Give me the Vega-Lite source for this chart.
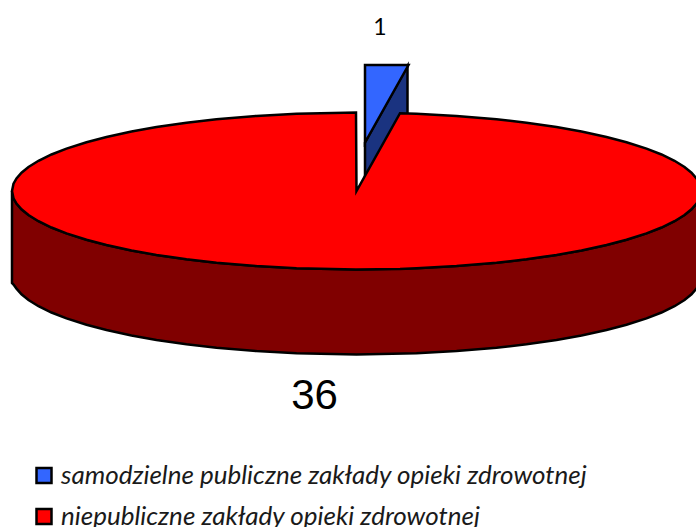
{
"$schema":"https://vega.github.io/schema/vega-lite/v6.json",
"width":696,"height":527,"padding":0,"autosize":{"type":"none"},
"background":"white",
"config":{"view":{"stroke":null}},
"datasets":{
"blueSide":[{"x":365,"y":142.5,"y2":176},{"x":407.5,"y":66,"y2":122}],
"blueTop":[{"x":365,"y":65,"y2":142.5,"category":"samodzielne publiczne zakłady opieki zdrowotnej"},{"x":408.5,"y":65,"y2":65,"category":"samodzielne publiczne zakłady opieki zdrowotnej"}],
"redSide":[
{"x":12,"y":191,"y2":283},{"x":13.5,"y":198.3,"y2":284.5},{"x":16.5,"y":203.6,"y2":288.6},{"x":21.5,"y":209.3,"y2":294.3},{"x":28.5,"y":215,"y2":300},{"x":38.5,"y":221.2,"y2":306.2},{"x":51.5,"y":227.5,"y2":312.5},{"x":66.5,"y":233.4,"y2":318.4},{"x":86.5,"y":239.8,"y2":324.8},{"x":106.5,"y":245,"y2":330},{"x":131.5,"y":250.4,"y2":335.4},{"x":156.5,"y":254.9,"y2":339.9},{"x":186.5,"y":259.3,"y2":344.3},{"x":216.5,"y":262.7,"y2":347.7},{"x":256.5,"y":266.1,"y2":351.1},{"x":296.5,"y":268.3,"y2":353.3},{"x":356.5,"y":269.5,"y2":354.5},{"x":416.5,"y":268.3,"y2":353.3},{"x":456.5,"y":266.1,"y2":351.1},{"x":496.5,"y":262.7,"y2":347.7},{"x":526.5,"y":259.3,"y2":344.3},{"x":556.5,"y":254.9,"y2":339.9},{"x":581.5,"y":250.4,"y2":335.4},{"x":606.5,"y":245,"y2":330},{"x":626.5,"y":239.8,"y2":324.8},{"x":646.5,"y":233.4,"y2":318.4},{"x":661.5,"y":227.5,"y2":312.5},{"x":674.5,"y":221.2,"y2":306.2},{"x":684.5,"y":215,"y2":300},{"x":691.5,"y":209.3,"y2":294.3},{"x":696.5,"y":203.6,"y2":288.6},{"x":699.5,"y":198.3,"y2":283.3},{"x":701,"y":191,"y2":276}
],
"redTop":[
{"x":12,"y":191,"y2":191},{"x":13.5,"y":183.7,"y2":198.3},{"x":16.5,"y":178.4,"y2":203.6},{"x":21.5,"y":172.7,"y2":209.3},{"x":28.5,"y":167,"y2":215},{"x":38.5,"y":160.8,"y2":221.2},{"x":51.5,"y":154.5,"y2":227.5},{"x":66.5,"y":148.6,"y2":233.4},{"x":86.5,"y":142.2,"y2":239.8},{"x":106.5,"y":137,"y2":245},{"x":131.5,"y":131.6,"y2":250.4},{"x":156.5,"y":127.1,"y2":254.9},{"x":186.5,"y":122.7,"y2":259.3},{"x":216.5,"y":119.3,"y2":262.7},{"x":256.5,"y":115.9,"y2":266.1},{"x":296.5,"y":113.7,"y2":268.3},{"x":356,"y":112.5,"y2":269.5},{"x":356.5,"y":191,"y2":269.5},{"x":400,"y":113.2,"y2":268.9},{"x":416.5,"y":113.7,"y2":268.3},{"x":456.5,"y":115.9,"y2":266.1},{"x":496.5,"y":119.3,"y2":262.7},{"x":526.5,"y":122.7,"y2":259.3},{"x":556.5,"y":127.1,"y2":254.9},{"x":581.5,"y":131.6,"y2":250.4},{"x":606.5,"y":137,"y2":245},{"x":626.5,"y":142.2,"y2":239.8},{"x":646.5,"y":148.6,"y2":233.4},{"x":661.5,"y":154.5,"y2":227.5},{"x":674.5,"y":160.8,"y2":221.2},{"x":684.5,"y":167,"y2":215},{"x":691.5,"y":172.7,"y2":209.3},{"x":696.5,"y":178.4,"y2":203.6},{"x":699.5,"y":183.7,"y2":198.3},{"x":701,"y":191,"y2":191}
],
"smallLabel":[{"x":380,"y":28,"label":"1"}],
"bigLabel":[{"x":314.5,"y":396,"label":"36"}]
},
"layer":[
{"data":{"name":"blueSide"},"mark":{"type":"area","fill":"#1a3380","stroke":"black","strokeWidth":2.5,"clip":true},
 "encoding":{"x":{"field":"x","type":"quantitative","scale":{"domain":[0,696]},"axis":null},"y":{"field":"y","type":"quantitative","scale":{"domain":[527,0]},"axis":null},"y2":{"field":"y2"}}},
{"data":{"name":"blueTop"},"mark":{"type":"area","stroke":"black","strokeWidth":2.5,"clip":true},
 "encoding":{"x":{"field":"x","type":"quantitative","scale":{"domain":[0,696]},"axis":null},"y":{"field":"y","type":"quantitative","scale":{"domain":[527,0]},"axis":null},"y2":{"field":"y2"},
 "fill":{"field":"category","type":"nominal","scale":{"domain":["samodzielne publiczne zakłady opieki zdrowotnej","niepubliczne zakłady opieki zdrowotnej"],"range":["#3366ff","#ff0000"]},
 "legend":{"title":null,"orient":"none","legendX":31,"legendY":462.5,"symbolType":"square","symbolSize":225,"symbolStrokeColor":"black","symbolStrokeWidth":2.5,"labelFont":"Lato","labelFontStyle":"italic","labelFontSize":26,"labelColor":"#1a1a1a","labelLimit":640,"rowPadding":15,"labelOffset":4}}}},
{"data":{"name":"redSide"},"mark":{"type":"area","fill":"#800000","stroke":"black","strokeWidth":2.5,"clip":true},
 "encoding":{"x":{"field":"x","type":"quantitative","scale":{"domain":[0,696]},"axis":null},"y":{"field":"y","type":"quantitative","scale":{"domain":[527,0]},"axis":null},"y2":{"field":"y2"}}},
{"data":{"name":"redTop"},"mark":{"type":"area","fill":"#ff0000","stroke":"black","strokeWidth":2.5,"clip":true},
 "encoding":{"x":{"field":"x","type":"quantitative","scale":{"domain":[0,696]},"axis":null},"y":{"field":"y","type":"quantitative","scale":{"domain":[527,0]},"axis":null},"y2":{"field":"y2"}}},
{"data":{"name":"smallLabel"},"mark":{"type":"text","font":"Lato","fontSize":23,"color":"black","align":"center","baseline":"middle"},
 "encoding":{"x":{"field":"x","type":"quantitative","scale":{"domain":[0,696]},"axis":null},"y":{"field":"y","type":"quantitative","scale":{"domain":[527,0]},"axis":null},"text":{"field":"label"}}},
{"data":{"name":"bigLabel"},"mark":{"type":"text","font":"Liberation Sans","fontSize":42,"color":"black","align":"center","baseline":"middle"},
 "encoding":{"x":{"field":"x","type":"quantitative","scale":{"domain":[0,696]},"axis":null},"y":{"field":"y","type":"quantitative","scale":{"domain":[527,0]},"axis":null},"text":{"field":"label"}}}
]
}
